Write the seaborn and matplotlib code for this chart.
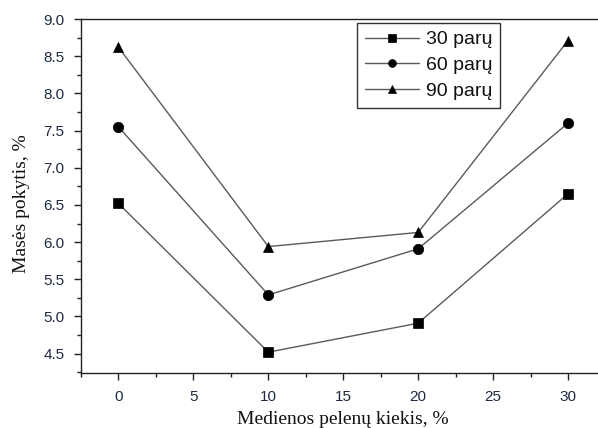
import matplotlib
matplotlib.use("Agg")
import matplotlib.pyplot as plt
from matplotlib.ticker import MultipleLocator
import seaborn as sns
import pandas as pd

# Wood ash content (%) and mass change (%) after 30, 60 and 90 days
ash_content = [0, 10, 20, 30]
mass_30 = [6.52, 4.52, 4.91, 6.65]
mass_60 = [7.55, 5.29, 5.91, 7.60]
mass_90 = [8.62, 5.94, 6.13, 8.71]
series_labels = ["30 parų", "60 parų", "90 parų"]
series_markers = ["s", "o", "^"]

sns.set_theme(style="ticks")
plt.rcParams["font.family"] = ["Liberation Sans", "DejaVu Sans"]

fig = plt.figure(figsize=(5.98, 4.28), dpi=100)
W, H = 598, 428
# axes box in pixels: left 81, top 19, bottom 373; extends past right edge
ax = fig.add_axes([81 / W, (H - 373) / H, (605.5 - 81) / W, (373 - 19) / H])

for vals, lab, mk in zip([mass_30, mass_60, mass_90], series_labels, series_markers):
    df = pd.DataFrame({"x": ash_content, "y": vals})
    sns.lineplot(data=df, x="x", y="y", ax=ax, color="#5a5a5a", linewidth=1.0,
                 marker=mk, markersize=7 if mk != "o" else 7.5,
                 markerfacecolor="black", markeredgecolor="black",
                 markeredgewidth=0.5, label=lab)

ax.set_xlim(-2.5, 32.5)
ax.set_ylim(4.24, 9.0)
ax.xaxis.set_major_locator(MultipleLocator(5))
ax.xaxis.set_minor_locator(MultipleLocator(2.5))
ax.yaxis.set_major_locator(MultipleLocator(0.5))
ax.yaxis.set_minor_locator(MultipleLocator(0.25))
ax.yaxis.set_major_formatter(matplotlib.ticker.FormatStrFormatter("%.1f"))

for side in ["top", "bottom", "left", "right"]:
    ax.spines[side].set_color("#222222")
    ax.spines[side].set_linewidth(1.0)

ax.tick_params(which="major", direction="out", length=5, width=1.0,
               color="#222222", labelsize=11, labelcolor="#1e2a40", pad=7)
ax.tick_params(which="minor", direction="out", length=3, width=1.0, color="#222222")

ax.set_xlabel("Medienos pelenų kiekis, %", family=["Liberation Serif", "DejaVu Serif"],
              fontsize=14, color="#111111", va="center")
ax.set_ylabel("Masės pokytis, %", family=["Liberation Serif", "DejaVu Serif"],
              fontsize=14, color="#111111", va="center")
ax.xaxis.set_label_coords((343 - 81) / (605.5 - 81), -(419 - 373) / (373 - 19))
ax.yaxis.set_label_coords(-(81 - 22) / (605.5 - 81), (373 - 204) / (373 - 19))

leg = ax.legend(loc="upper left", bbox_to_anchor=((357 - 81) / (605.5 - 81), (373 - 23) / (373 - 19)),
                frameon=True, fancybox=False, edgecolor="#333333", framealpha=1,
                fontsize=14, handlelength=2.8, handletextpad=0.35, labelspacing=0.42,
                borderpad=0.4, borderaxespad=0, markerscale=0.75)
leg.get_frame().set_linewidth(1.0)
for t in leg.get_texts():
    t.set_color("#111111")

fig.savefig("out.png", dpi=100)
